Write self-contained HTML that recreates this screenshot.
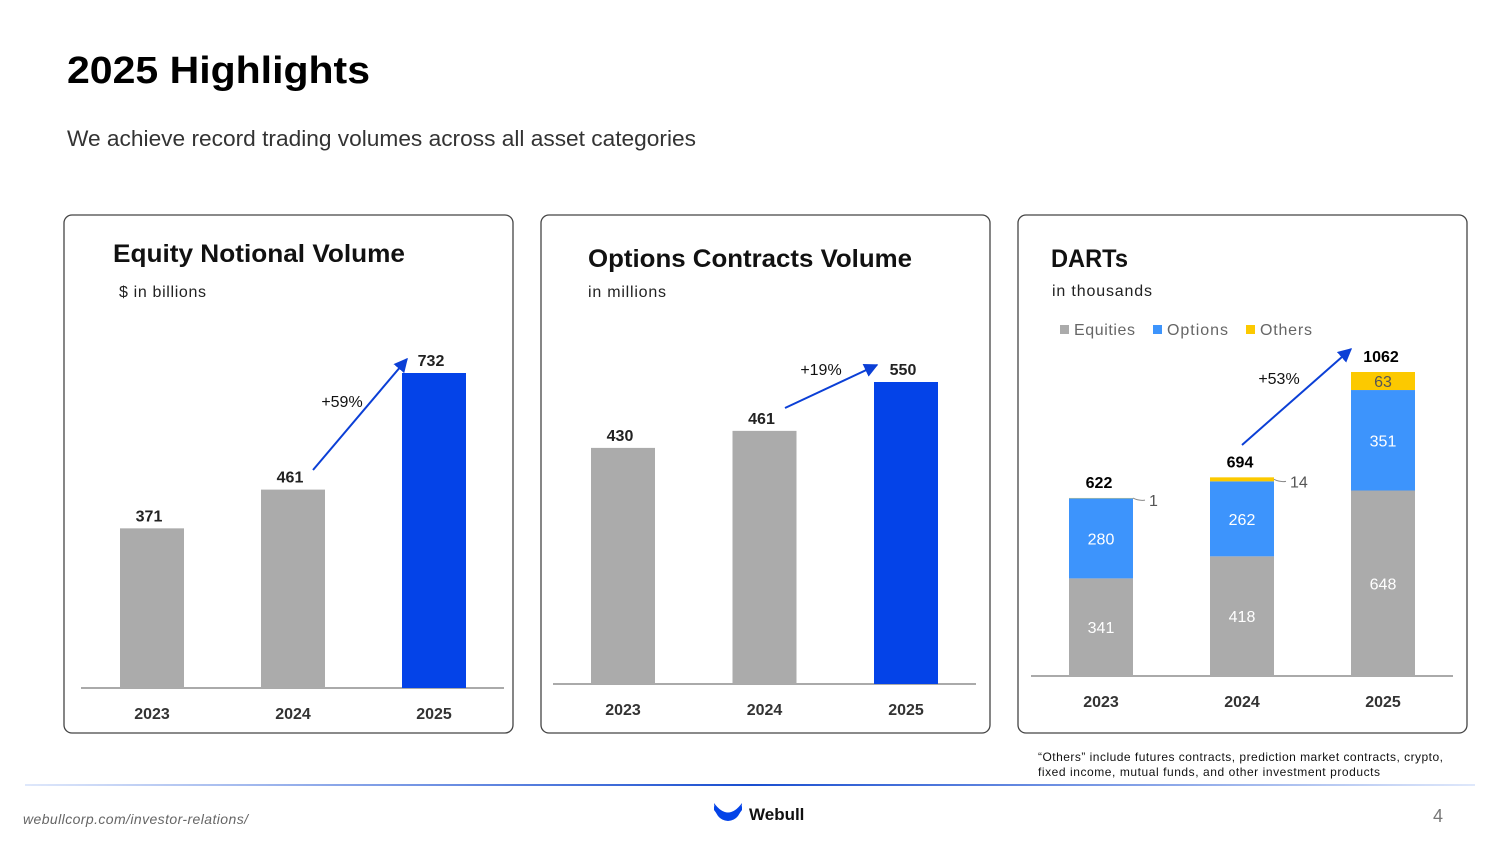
<!DOCTYPE html>
<html><head><meta charset="utf-8"><style>
body{margin:0;width:1500px;height:844px;background:#fff;overflow:hidden;font-family:"Liberation Sans",sans-serif}
svg{position:absolute;left:0;top:0}
</style></head><body>
<svg width="1500" height="844" viewBox="0 0 1500 844" font-family="Liberation Sans, sans-serif">
<defs>
<marker id="ah" viewBox="0 0 10 10" refX="9" refY="5" markerWidth="7" markerHeight="7" orient="auto"><path d="M0,0L10,5L0,10z" fill="#0b3fd6"/></marker>
<linearGradient id="fl" x1="0" x2="1"><stop offset="0" stop-color="#dfe8fb"/><stop offset="0.5" stop-color="#1a4fd0"/><stop offset="1" stop-color="#dfe8fb"/></linearGradient>
</defs>
<text x="67" y="83" font-size="38" font-weight="bold" fill="#000" textLength="303" lengthAdjust="spacingAndGlyphs">2025 Highlights</text>
<text x="67" y="146" font-size="22" fill="#333" textLength="629" lengthAdjust="spacingAndGlyphs">We achieve record trading volumes across all asset categories</text>

<rect x="64" y="215" width="449" height="518" rx="8" fill="none" stroke="#444" stroke-width="1.3"/>
<rect x="541" y="215" width="449" height="518" rx="8" fill="none" stroke="#444" stroke-width="1.3"/>
<rect x="1018" y="215" width="449" height="518" rx="8" fill="none" stroke="#444" stroke-width="1.3"/>

<text x="113" y="262" font-size="25" font-weight="bold" fill="#111" textLength="292" lengthAdjust="spacingAndGlyphs">Equity Notional Volume</text>
<text x="119" y="297" font-size="16" fill="#222" textLength="87">$ in billions</text>
<text x="588" y="267" font-size="25" font-weight="bold" fill="#111" textLength="324" lengthAdjust="spacingAndGlyphs">Options Contracts Volume</text>
<text x="588" y="297" font-size="16" fill="#222" textLength="78">in millions</text>
<text x="1051" y="267" font-size="25" font-weight="bold" fill="#111" textLength="77" lengthAdjust="spacingAndGlyphs">DARTs</text>
<text x="1052" y="296" font-size="16" fill="#222" textLength="100">in thousands</text>

<g font-size="16" fill="#666">
<rect x="1060" y="325" width="9" height="9" fill="#ababab"/><text x="1074" y="335" textLength="61">Equities</text>
<rect x="1153" y="325" width="9" height="9" fill="#3d94fc"/><text x="1167" y="335" textLength="61">Options</text>
<rect x="1246" y="325" width="9" height="9" fill="#fcc900"/><text x="1260" y="335" textLength="52">Others</text>
</g>

<g id="c1"></g><g id="c2"></g><g id="c3"></g>

<line x1="313" y1="470" x2="407" y2="359" stroke="#0b3fd6" stroke-width="2" marker-end="url(#ah)"/>
<text x="342" y="407" font-size="16" text-anchor="middle" fill="#111">+59%</text>
<line x1="785" y1="408" x2="877" y2="365" stroke="#0b3fd6" stroke-width="2" marker-end="url(#ah)"/>
<text x="821" y="375" font-size="16" text-anchor="middle" fill="#111">+19%</text>
<line x1="1242" y1="445" x2="1351" y2="349" stroke="#0b3fd6" stroke-width="2" marker-end="url(#ah)"/>
<text x="1279" y="384" font-size="16" text-anchor="middle" fill="#111">+53%</text>

<text x="1038" y="761" font-size="12" fill="#111" textLength="405">“Others” include futures contracts, prediction market contracts, crypto,</text>
<text x="1038" y="776" font-size="12" fill="#111" textLength="342">fixed income, mutual funds, and other investment products</text>
<rect x="25" y="784" width="1450" height="2" fill="url(#fl)"/>
<text x="23" y="824" font-size="14" font-style="italic" fill="#666" textLength="225">webullcorp.com/investor-relations/</text>
<g>
<path d="M714,806 Q728,826 742,806 L742,810 Q728,830 714,810z" fill="#0443e8"/>
<path d="M714,803 Q728,822 742,803 Q741,820 728,821 Q715,820 714,803z" fill="#0443e8"/>
<text x="749" y="820" font-size="17" font-weight="bold" fill="#111">Webull</text>
</g>
<text x="1443" y="822" font-size="18" fill="#777" text-anchor="end">4</text>
</svg>
<script>
const years = ["2023","2024","2025"];
const equityVals = [371,461,732];
const optionsVals = [430,461,550];
const dartsEquities = [341,418,648];
const dartsOptions = [280,262,351];
const dartsOthers = [1,14,63];
const NS="http://www.w3.org/2000/svg";
function mk(p,tag,a,txt){const e=document.createElementNS(NS,tag);for(const k in a)e.setAttribute(k,a[k]);if(txt!==undefined)e.textContent=txt;p.appendChild(e);return e;}
function simple(id,vals,cfg){
  const g=document.getElementById(id);
  const y=v=>cfg.base-v*cfg.scale;
  const ax=mk(g,'line',{x1:cfg.ax0,x2:cfg.ax1,y1:cfg.base,y2:cfg.base,stroke:'#555','stroke-width':1});
  
  
  vals.forEach((v,i)=>{
    const x=cfg.x0+i*cfg.step;
    const r=mk(g,'rect',{x:x,y:y(v),width:64,height:cfg.base-y(v),fill:i===vals.length-1?'#0443e8':'#ababab'});
    
    
    const t=mk(g,'text',{x:x+29,y:y(v)-7,'font-size':16,'font-weight':'bold','text-anchor':'middle',fill:'#222'},String(v));
    
    
    const yl=mk(g,'text',{x:x+32,y:cfg.base+31,'font-size':16,'font-weight':'bold','text-anchor':'middle',fill:'#333'},years[i]);
    
    
  });
}
simple('c1',equityVals,{base:688,scale:315/732,x0:120,step:141,ax0:81,ax1:504});
simple('c2',optionsVals,{base:684,scale:302/550,x0:591,step:141.5,ax0:553,ax1:976});
(function(){
  const g=document.getElementById('c3');const base=676,sc=304/1062,x0=1069,step=141;
  const ax=mk(g,'line',{x1:1031,x2:1453,y1:base,y2:base,stroke:'#555','stroke-width':1});
  
  
  years.forEach((yr,i)=>{
    const x=x0+i*step;let cur=base;
    const segs=[[dartsEquities[i],'#ababab','equities'],[dartsOptions[i],'#3d94fc','options'],[dartsOthers[i],'#fcc900','others']];
    segs.forEach(([v,c,n])=>{
      const h=v*sc;cur-=h;
      const r=mk(g,'rect',{x:x,y:cur,width:64,height:h,fill:c});
      
      
      if(h>15){
        const t=mk(g,'text',{x:x+32,y:cur+h/2+6,'font-size':16,'text-anchor':'middle',fill:n==='others'?'#555':'#fff'},String(v));
        
        
      } else {
        mk(g,'path',{d:`M${x+64},${cur+h/2} q6,3 12,2`,stroke:'#888',fill:'none'});
        const t=mk(g,'text',{x:x+80,y:cur+h/2+8,'font-size':16,fill:'#555'},String(v));
        
        
      }
    });
    const tot=dartsEquities[i]+dartsOptions[i]+dartsOthers[i];
    const t=mk(g,'text',{x:x+30,y:cur-10,'font-size':16,'font-weight':'bold','text-anchor':'middle',fill:'#000'},String(tot));
    
    
    const yl=mk(g,'text',{x:x+32,y:base+31,'font-size':16,'font-weight':'bold','text-anchor':'middle',fill:'#333'},yr);
    
    
  });
})();
</script>
</body></html>
